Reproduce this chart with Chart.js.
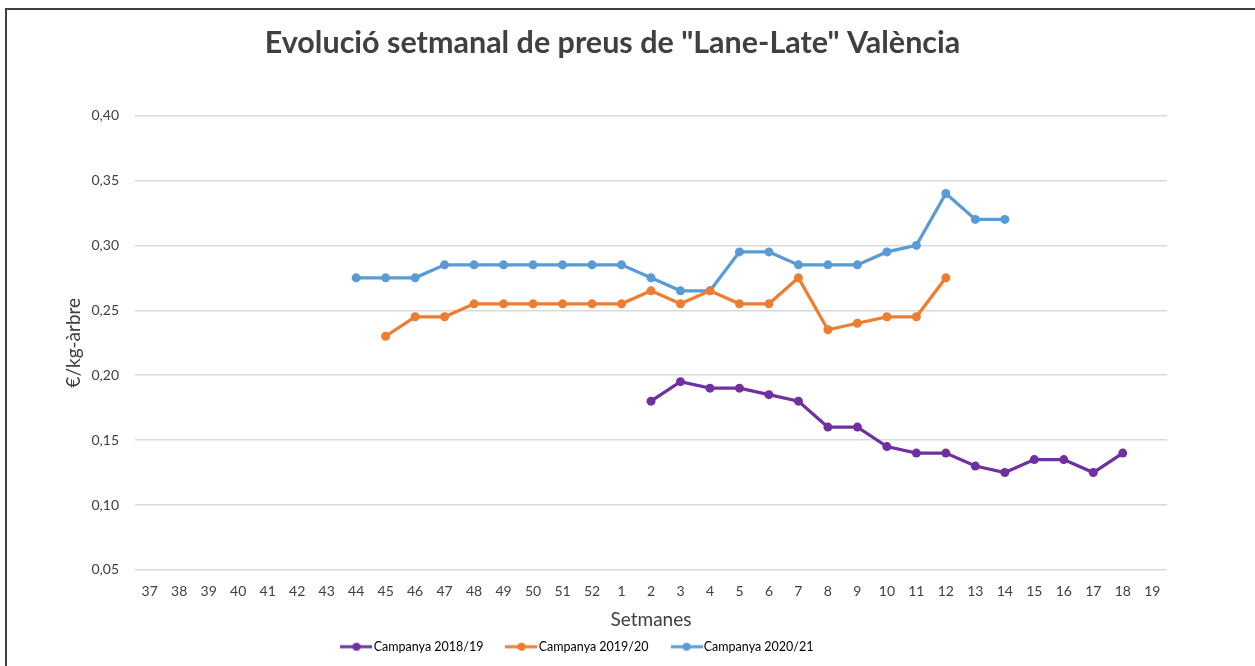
<!DOCTYPE html>
<html>
<head>
<meta charset="utf-8">
<script src="https://cdn.jsdelivr.net/npm/chart.js@4"></script>
<style>
  html, body { margin: 0; padding: 0; background: #fff; }
  #wrap { position: relative; width: 1255px; height: 666px; }
  #frame { position: absolute; left: 5px; top: 8px; right: 0; bottom: 0;
           border-top: 2px solid #404040; border-left: 2px solid #404040; pointer-events: none; }
  canvas { position: absolute; left: 0; top: 0; }
</style>
</head>
<body>
<div id="wrap">
  <canvas id="chart" width="1255" height="666"></canvas>
  <div id="frame"></div>
</div>
<script>
// setmanes de campanya (37 -> 52, 1 -> 19)
const weeks = ['37','38','39','40','41','42','43','44','45','46','47','48','49','50','51','52',
               '1','2','3','4','5','6','7','8','9','10','11','12','13','14','15','16','17','18','19'];

// €/kg-àrbre, null = sense dada
const c2018 = [null,null,null,null,null,null,null,null,null,null,null,null,null,null,null,null,
               null,0.18,0.195,0.19,0.19,0.185,0.18,0.16,0.16,0.145,0.14,0.14,0.13,0.125,0.135,0.135,0.125,0.14,null];
const c2019 = [null,null,null,null,null,null,null,null,0.23,0.245,0.245,0.255,0.255,0.255,0.255,0.255,
               0.255,0.265,0.255,0.265,0.255,0.255,0.275,0.235,0.24,0.245,0.245,0.275,null,null,null,null,null,null,null];
const c2020 = [null,null,null,null,null,null,null,0.275,0.275,0.275,0.285,0.285,0.285,0.285,0.285,0.285,
               0.285,0.275,0.265,0.265,0.295,0.295,0.285,0.285,0.285,0.295,0.30,0.34,0.32,0.32,null,null,null,null,null];

const seriesNames = ['Campanya 2018/19', 'Campanya 2019/20', 'Campanya 2020/21'];
const seriesColors = ['#7030A0', '#ED7D31', '#5B9BD5'];

const FONT = 'Lato, "Open Sans", sans-serif';

// petita icona de llegenda: línia amb punt al mig
function legendIcon(color) {
    const c = document.createElement('canvas');
    c.width = 32; c.height = 10;
    const g = c.getContext('2d');
    g.strokeStyle = color;
    g.lineWidth = 3;
    g.beginPath(); g.moveTo(0, 5); g.lineTo(32, 5); g.stroke();
    g.fillStyle = color;
    g.beginPath(); g.arc(16, 5, 4, 0, Math.PI * 2); g.fill();
    return c;
}

// la llegenda d'Excel queda una mica desplaçada a l'esquerra
const legendShift = {
    id: 'legendShift',
    afterLayout(chart) {
        chart.legend.left -= 33;
        chart.legend.right -= 33;
    }
};

const allData = [c2018, c2019, c2020];
const datasets = allData.map((d, i) => ({
    label: seriesNames[i],
    data: d,
    borderColor: seriesColors[i],
    backgroundColor: seriesColors[i],
    borderWidth: 3.25,
    pointRadius: 4.5,
    pointHoverRadius: 4.5,
    pointBackgroundColor: seriesColors[i],
    pointBorderWidth: 0,
    spanGaps: false,
    tension: 0
}));

new Chart(document.getElementById('chart').getContext('2d'), {
    type: 'line',
    data: { labels: weeks, datasets: datasets },
    plugins: [legendShift],
    options: {
        responsive: false,
        animation: false,
        devicePixelRatio: 1,
        layout: { padding: { left: 58, right: 88, top: 10, bottom: 3 } },
        scales: {
            x: {
                offset: true,
                grid: { display: false, drawTicks: false },
                border: { display: false },
                ticks: { color: '#404040', font: { family: FONT, size: 14 }, padding: 13, maxRotation: 0, autoSkip: false },
                title: { display: true, text: 'Setmanes', color: '#404040', font: { family: FONT, size: 19 }, padding: { top: -4, bottom: -18 } }
            },
            y: {
                min: 0.05,
                max: 0.40,
                ticks: {
                    stepSize: 0.05,
                    color: '#404040',
                    padding: 16,
                    font: { family: FONT, size: 14 },
                    callback: v => v.toFixed(2).replace('.', ',')
                },
                grid: { color: '#d9d9d9', lineWidth: 1.5, drawTicks: false },
                border: { display: false },
                title: { display: true, text: '€/kg-àrbre', color: '#404040', font: { family: FONT, size: 19 }, padding: { bottom: 4 } },
                afterFit: axis => { axis.width = 77; }
            }
        },
        plugins: {
            title: {
                display: true,
                text: 'Evolució setmanal de preus de "Lane-Late" València',
                color: '#404040',
                font: { family: FONT, size: 30.5, weight: 'bold' },
                padding: { top: 15, bottom: 54 }
            },
            legend: {
                position: 'bottom',
                labels: {
                    usePointStyle: true,
                    pointStyleWidth: 22,
                    boxHeight: 10,
                    padding: 27,
                    color: '#404040',
                    font: { family: FONT, size: 12.5 },
                    generateLabels: chart => seriesNames.map((name, i) => ({
                        text: name,
                        pointStyle: legendIcon(seriesColors[i]),
                        fillStyle: seriesColors[i],
                        strokeStyle: seriesColors[i],
                        lineWidth: 0,
                        datasetIndex: i,
                        hidden: false
                    }))
                }
            },
            tooltip: { enabled: false }
        }
    }
});
</script>
</body>
</html>
